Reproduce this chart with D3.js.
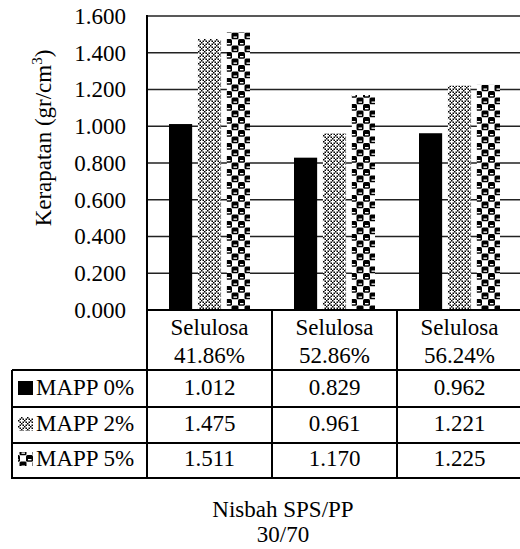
<!DOCTYPE html>
<html><head><meta charset="utf-8">
<script src="https://cdn.jsdelivr.net/npm/d3@7"></script>
<style>
html,body{margin:0;padding:0;background:#fff;}
svg{display:block;}
</style></head>
<body>
<svg id="chart" width="520" height="549"></svg>
<script>
// ---- data ----
const categoryTop = ["Selulosa", "Selulosa", "Selulosa"];
const categoryBottom = ["41.86%", "52.86%", "56.24%"];
const seriesNames = ["MAPP 0%", "MAPP 2%", "MAPP 5%"];
const mapp0 = [1.012, 0.829, 0.962];
const mapp2 = [1.475, 0.961, 1.221];
const mapp5 = [1.511, 1.170, 1.225];
const tickValues = [0, 0.2, 0.4, 0.6, 0.8, 1.0, 1.2, 1.4, 1.6];
const yTitle = "Kerapatan (gr/cm";
const xTitle1 = "Nisbah SPS/PP";
const xTitle2 = "30/70";

const seriesValues = [mapp0, mapp2, mapp5];
const catIdx = categoryTop.map((d, i) => i);

const FONT = "'Liberation Serif', 'Times New Roman', serif";
const FS = 23;
const svg = d3.select("#chart");

function txt(sel) { return sel.style("font-family", FONT).style("font-size", FS + "px").attr("fill", "#000"); }

// ---- patterns ----
const defs = svg.append("defs");
// dotted diamond (MAPP 2%)
const p2 = defs.append("pattern").attr("id", "pat2").attr("patternUnits", "userSpaceOnUse")
  .attr("width", 6).attr("height", 6);
p2.append("rect").attr("width", 6).attr("height", 6).attr("fill", "#fff");
[[0,0],[1.5,1.5],[4.5,1.5],[3,3],[1.5,4.5],[4.5,4.5]].forEach(([x,y]) => {
  p2.append("rect").attr("x", x).attr("y", y).attr("width", 1.5).attr("height", 1.5).attr("fill", "#000");
});
// sphere (MAPP 5%)
const p5 = defs.append("pattern").attr("id", "pat5").attr("patternUnits", "userSpaceOnUse")
  .attr("width", 13).attr("height", 13);
p5.append("rect").attr("width", 13).attr("height", 13).attr("fill", "#fff");
[[0,0],[6.5,6.5],[-6.5,6.5],[6.5,-6.5]].forEach(([x,y]) => {
  p5.append("rect").attr("x", x).attr("y", y).attr("width", 7).attr("height", 6.8)
    .attr("rx", 1.5).attr("fill", "#000");
  p5.append("rect").attr("x", x + 2).attr("y", y + 4).attr("width", 3.5).attr("height", 1.3).attr("fill", "#fff");
});
const fills = ["#000", "url(#pat2)", "url(#pat5)"];

// ---- scales ----
const plotLeft = 147, plotTop = 16, plotBottom = 310, bandW = 125;
const x0 = d3.scaleBand().domain(catIdx).range([plotLeft, plotLeft + bandW * 3]).padding(0);
const x1 = d3.scaleBand().domain([0, 1, 2]).range([22, 103]).paddingInner(0.2);
const y = d3.scaleLinear().domain([0, 1.6]).range([plotBottom, plotTop]);

// gridlines
svg.append("g").selectAll("line").data(tickValues.filter(v => v > 0)).join("line")
  .attr("x1", plotLeft).attr("x2", 520)
  .attr("y1", d => y(d)).attr("y2", d => y(d))
  .attr("stroke", "#222").attr("stroke-width", 1.6);

// y axis via d3.axisLeft
const yAxis = d3.axisLeft(y).tickValues(tickValues).tickFormat(d3.format(".3f")).tickSize(0).tickPadding(21);
const gy = svg.append("g").attr("transform", `translate(${plotLeft},0)`).call(yAxis);
gy.select(".domain").remove();
txt(gy.selectAll("text"));

// bars
const groups = svg.append("g").selectAll("g").data(catIdx).join("g")
  .attr("transform", d => `translate(${x0(d)},0)`);
groups.selectAll("rect").data(ci => seriesValues.map((s, si) => ({si, v: s[ci]}))).join("rect")
  .attr("x", d => x1(d.si)).attr("width", x1.bandwidth())
  .attr("y", d => y(d.v)).attr("height", d => y(0) - y(d.v))
  .attr("fill", d => fills[d.si]);

// axis line
svg.append("line").attr("x1", plotLeft).attr("x2", plotLeft).attr("y1", plotTop - 1).attr("y2", 478)
  .attr("stroke", "#000").attr("stroke-width", 2);

// ---- data table ----
const tableLeft = 12;
const rowLines = [370, 407, 443, 478];
const lineG = svg.append("g").attr("stroke", "#000").attr("stroke-width", 2);
lineG.append("line").attr("x1", plotLeft).attr("x2", 520).attr("y1", plotBottom).attr("y2", plotBottom);
rowLines.forEach(yy => lineG.append("line").attr("x1", tableLeft).attr("x2", 520).attr("y1", yy).attr("y2", yy));
lineG.append("line").attr("x1", tableLeft).attr("x2", tableLeft).attr("y1", 370).attr("y2", 479);
catIdx.slice(1).forEach(ci => lineG.append("line").attr("x1", x0(ci)).attr("x2", x0(ci)).attr("y1", plotBottom).attr("y2", 478));

// header labels
const hdr = svg.append("g");
catIdx.forEach(ci => {
  const cx = x0(ci) + x0.bandwidth() / 2;
  txt(hdr.append("text")).attr("x", cx).attr("y", 335).attr("text-anchor", "middle").text(categoryTop[ci]);
  txt(hdr.append("text")).attr("x", cx).attr("y", 363).attr("text-anchor", "middle").text(categoryBottom[ci]);
});

// rows
const rowBase = [395, 431, 466];
const rows = svg.append("g");
seriesNames.forEach((name, si) => {
  rows.append("rect").attr("x", 18).attr("y", rowBase[si] - 14).attr("width", 15).attr("height", 14)
    .attr("fill", fills[si]);
  txt(rows.append("text")).attr("x", 36).attr("y", rowBase[si]).text(name);
  catIdx.forEach(ci => {
    txt(rows.append("text")).attr("x", x0(ci) + x0.bandwidth() / 2).attr("y", rowBase[si])
      .attr("text-anchor", "middle").text(d3.format(".3f")(seriesValues[si][ci]));
  });
});

// y title
const yt = txt(svg.append("text")).attr("text-anchor", "middle")
  .attr("transform", "translate(51,138) rotate(-90)");
yt.append("tspan").text(yTitle);
yt.append("tspan").style("font-size", "15px").attr("dy", -9).text("3");
yt.append("tspan").attr("dy", 9).text(")");

// x title
txt(svg.append("text")).attr("text-anchor", "middle").attr("x", 283).attr("y", 517).text(xTitle1);
txt(svg.append("text")).attr("text-anchor", "middle").attr("x", 283).attr("y", 542).text(xTitle2);
</script>
</body></html>
